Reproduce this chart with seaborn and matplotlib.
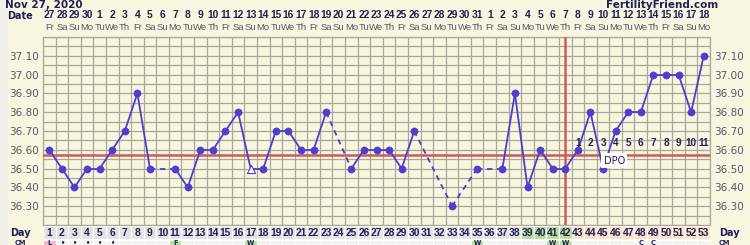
import numpy as np
import matplotlib
matplotlib.use("Agg")
import matplotlib.pyplot as plt
import matplotlib.transforms as mtrans
from matplotlib.patches import Rectangle
import seaborn as sns
import pandas as pd

# ---------------- data ----------------
days = list(range(1, 54))
dates = [27, 28, 29, 30] + list(range(1, 32)) + list(range(1, 19))
weekdays = ["Fr", "Sa", "Su", "Mo", "Tu", "We", "Th"] * 7 + ["Fr", "Sa", "Su", "Mo"]
temps = [36.60, 36.50, 36.40, 36.50, 36.50, 36.60, 36.70, 36.90, 36.50, None,
         36.50, 36.40, 36.60, 36.60, 36.70, 36.80, 36.50, 36.50, 36.70, 36.70,
         36.60, 36.60, 36.80, None, 36.50, 36.60, 36.60, 36.60, 36.50, 36.70,
         None, None, 36.30, None, 36.50, None, 36.50, 36.90, 36.40, 36.60,
         36.50, 36.50, 36.60, 36.80, 36.50, 36.70, 36.80, 36.80, 37.00, 37.00,
         37.00, 36.80, 37.10]
open_marker_days = [17]
coverline = 36.575
ovulation_day = 42
dpo_days = list(range(43, 54))
dpo_labels = [str(i) for i in range(1, 12)]
green_days = [39, 40, 41, 42]
luteal_days = list(range(43, 54))
cm_labels = {1: "L", 2: "•", 3: "•", 4: "•", 5: "•", 6: "•", 11: "F", 17: "W",
             35: "W", 41: "W", 42: "W", 48: "C", 49: "C"}
cm_green = [11, 17, 35, 41, 42]
cm_pink = [1]
yticks = [36.30, 36.40, 36.50, 36.60, 36.70, 36.80, 36.90, 37.00, 37.10]

# ---------------- style ----------------
sns.set_theme(style="white")
plt.rcParams["font.family"] = ["DejaVu Sans"]
NUMFONT = ["Liberation Sans", "DejaVu Sans"]

BG = "#f8f6de"
GRID = "#aaa89c"
LINE = "#4c3fd0"
NAVY = "#22205a"
LABEL = "#55556e"
RED = "#d05a5a"

W, H = 750, 245
fig = plt.figure(figsize=(7.5, 2.45), dpi=100, facecolor=BG)
L, R, T, B = 43, 710, 37, 225
ax = fig.add_axes([L / W, 1 - B / H, (R - L) / W, (B - T) / H])
ax.set_facecolor(BG)

# left light strip
fig.patches.append(Rectangle((0, 0), 8 / W, 1, transform=fig.transFigure,
                             facecolor="#efefec", edgecolor="none", zorder=0))

ax.set_xlim(0.5, 53.5)
ax.set_ylim(36.20, 37.20)

# grid
ax.set_xticks(np.arange(0.5, 54, 1))
ax.set_xticklabels([])
ax.set_yticks(yticks)
ax.set_yticks(np.arange(36.20, 37.21, 0.05), minor=True)
ax.set_yticklabels([f"{v:.2f}" for v in yticks])
ax.grid(True, which="major", axis="both", color=GRID, lw=0.9)
ax.grid(True, which="minor", axis="y", color=GRID, lw=0.9)
ax.tick_params(axis="both", which="both", length=0, labelsize=7.5, labelcolor=LABEL,
               labelright=True, labelleft=True, pad=3)
for s in ax.spines.values():
    s.set_color(GRID)
    s.set_linewidth(0.9)

# coverline
ax.axhline(coverline, color=RED, lw=1.8, zorder=3)

# temperature segments
df = pd.DataFrame({"day": days, "temp": temps}).dropna()
pts = list(zip(df["day"], df["temp"]))
for (d0, t0), (d1, t1) in zip(pts[:-1], pts[1:]):
    ls = "-" if d1 - d0 == 1 else (0, (3, 2.5))
    ax.plot([d0, d1], [t0, t1], color=LINE, lw=1.3, ls=ls, zorder=4,
            solid_capstyle="round")

df_closed = df[~df["day"].isin(open_marker_days)]
df_open = df[df["day"].isin(open_marker_days)]
sns.scatterplot(data=df_closed, x="day", y="temp", ax=ax, color=LINE, s=26,
                edgecolor=LINE, linewidth=0.5, zorder=5, legend=False)
sns.scatterplot(data=df_open, x="day", y="temp", ax=ax, marker="^", s=34,
                facecolor="white", edgecolor=LINE, linewidth=0.8, zorder=5, legend=False)
ax.set_xlabel("")
ax.set_ylabel("")

# DPO numbers
for d, lab in zip(dpo_days, dpo_labels):
    ax.text(d, 36.635, lab, ha="center", va="center", fontsize=7.2, fontweight="bold",
            color=NAVY, zorder=6, family=NUMFONT)
ax.text(45.9, 36.543, "DPO", ha="center", va="center", fontsize=7, color=NAVY, zorder=6,
        bbox=dict(boxstyle="square,pad=0.25", facecolor="white", edgecolor="none"))

# header / footer using x data and y figure-pixel coords
tr = mtrans.blended_transform_factory(ax.transData, fig.transFigure)
def fy(py):
    return 1 - py / H

for d, dt, wd in zip(days, dates, weekdays):
    ax.text(d, fy(15.5), str(dt), transform=tr, ha="center", va="center", fontsize=7.4,
            fontweight="bold", color=NAVY, clip_on=False, family=NUMFONT)
    ax.text(d, fy(27.5), wd, transform=tr, ha="center", va="center", fontsize=6.8,
            color=LABEL, clip_on=False, family=NUMFONT)
ax.text(-1.3, fy(16), "Date", transform=tr, ha="center", va="center", fontsize=7,
        fontweight="bold", color=NAVY, clip_on=False)

fig.text(5 / W, fy(0.3), "Nov 27, 2020", ha="left", va="top", fontsize=7.5,
         fontweight="bold", color=NAVY)
fig.text(718 / W, fy(0.3), "FertilityFriend.com", ha="right", va="top", fontsize=7.5,
         fontweight="bold", color=NAVY)

# vertical ovulation line across grid
ax.axvline(ovulation_day, color=RED, lw=1.8, zorder=3)

# Day row
row_top, row_bot = 226, 239
for d in days:
    if d in green_days:
        c = "#b7df9c"
    elif d in luteal_days:
        c = "#fce1c4"
    else:
        c = "#e3e3e0"
    ax.add_patch(Rectangle((d - 0.5, fy(row_bot)), 1, (row_bot - row_top) / H,
                           transform=tr, facecolor=c, edgecolor="white", lw=0.8,
                           clip_on=False, zorder=2))
    ax.text(d, fy(232.5), str(d), transform=tr, ha="center", va="center", fontsize=7.4,
            fontweight="bold", color=NAVY, clip_on=False, zorder=3, family=NUMFONT)
ax.text(-1.3, fy(232.5), "Day", transform=tr, ha="center", va="center", fontsize=7,
        fontweight="bold", color=NAVY, clip_on=False)
ax.text(54.2, fy(232.5), "Day", transform=tr, ha="left", va="center", fontsize=7,
        fontweight="bold", color=NAVY, clip_on=False)

# CM row (at the bottom edge, as in the reference)
cm_top, cm_bot = 240, 252
for d in days:
    c = "#f3f3ef"
    if d in cm_green:
        c = "#b7df9c"
    elif d in cm_pink:
        c = "#f2b9c9"
    ax.add_patch(Rectangle((d - 0.5, fy(cm_bot)), 1, (cm_bot - cm_top) / H,
                           transform=tr, facecolor=c, edgecolor="white", lw=0.8,
                           clip_on=False, zorder=2))
    if d in cm_labels:
        ax.text(d, fy(242.6), cm_labels[d], transform=tr, ha="center", va="center",
                fontsize=4.8, fontweight="bold", color=NAVY, clip_on=False, zorder=3)
ax.text(-1.3, fy(242.6), "CM", transform=tr, ha="center", va="center", fontsize=4.8,
        fontweight="bold", color=NAVY, clip_on=False)
ax.text(54.2, fy(242.6), "CM", transform=tr, ha="left", va="center", fontsize=4.8,
        fontweight="bold", color=NAVY, clip_on=False)

fig.savefig("out.png", dpi=100, facecolor=BG)
